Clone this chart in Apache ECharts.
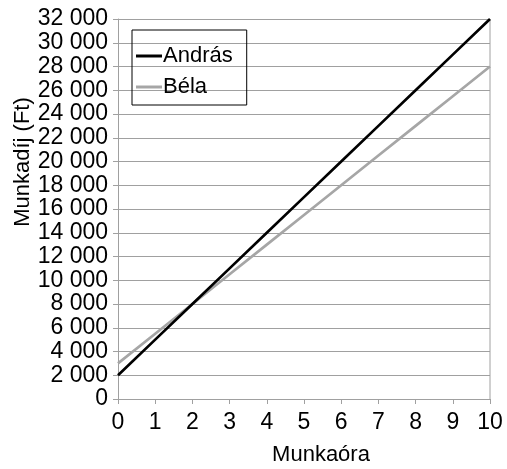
<!DOCTYPE html>
<html><head><meta charset="utf-8">
<script src="https://cdn.jsdelivr.net/npm/echarts@6/dist/echarts.min.js"></script>
<style>html,body{margin:0;padding:0;background:#fff}#c{width:507px;height:469px}</style>
</head><body><div id="c"></div>
<script>
var hours = [0,1,2,3,4,5,6,7,8,9,10];
var andras = [2000,5000,8000,11000,14000,17000,20000,23000,26000,29000,32000];
var bela = [3000,5500,8000,10500,13000,15500,18000,20500,23000,25500,28000];
var seriesNames = ['András','Béla'];
var xTitle = 'Munkaóra';
var yTitle = 'Munkadíj (Ft)';
var FONT = '"Liberation Sans Narrow","Arial Narrow","Liberation Sans",Arial,sans-serif';
function fmt(v){ var s=String(v); return s.length>3 ? s.slice(0,s.length-3)+' '+s.slice(-3) : s; }
var chart = echarts.init(document.getElementById('c'));
chart.setOption({
  animation:false,
  grid:{left:118,right:17,top:19,bottom:70,containLabel:false,outerBoundsMode:'none',show:false},
  legend:{
    orient:'vertical',left:132,top:30,
    data:seriesNames,
    borderColor:'#000',borderWidth:1,padding:[11,14,3,4],
    itemGap:1,itemWidth:26,itemHeight:3,icon:'rect',
    textStyle:{fontFamily:FONT,fontSize:22,lineHeight:22,color:'#000',padding:[0,0,8,-4]}
  },
  xAxis:{
    type:'value',min:0,max:10,interval:1,
    name:xTitle,nameLocation:'middle',nameGap:45,nameMoveOverlap:false,
    nameTextStyle:{fontFamily:FONT,fontSize:22,color:'#000',verticalAlign:'top',padding:[0,0,0,34]},
    axisLine:{show:true,lineStyle:{color:'#a0a0a0',width:1}},
    axisTick:{show:true,length:5,lineStyle:{color:'#a0a0a0'}},
    axisLabel:{fontFamily:FONT,fontSize:23,color:'#000',margin:12},
    splitLine:{show:false}
  },
  yAxis:{
    type:'value',min:0,max:32000,interval:2000,
    name:yTitle,nameLocation:'middle',nameGap:84,nameMoveOverlap:false,
    nameTextStyle:{fontFamily:FONT,fontSize:22,color:'#000',padding:[0,0,0,94]},
    axisLine:{show:true,lineStyle:{color:'#a0a0a0',width:1}},
    axisTick:{show:true,length:5,lineStyle:{color:'#a0a0a0'}},
    axisLabel:{fontFamily:FONT,fontSize:23,color:'#000',margin:10,formatter:fmt},
    splitLine:{show:true,lineStyle:{color:'#a0a0a0',width:1}}
  },
  series:[
    {name:seriesNames[0],type:'line',data:hours.map(function(h,i){return [h,andras[i]];}),
     showSymbol:false,lineStyle:{color:'#000',width:2.7},itemStyle:{color:'#000'},z:3},
    {name:seriesNames[1],type:'line',data:hours.map(function(h,i){return [h,bela[i]];}),
     showSymbol:false,lineStyle:{color:'#a6a6a6',width:2.7},itemStyle:{color:'#a6a6a6'},z:2},
    {type:'line',data:[[10,0],[10,32000]],showSymbol:false,silent:true,
     lineStyle:{color:'#a0a0a0',width:1},z:1}
  ]
});
</script></body></html>
